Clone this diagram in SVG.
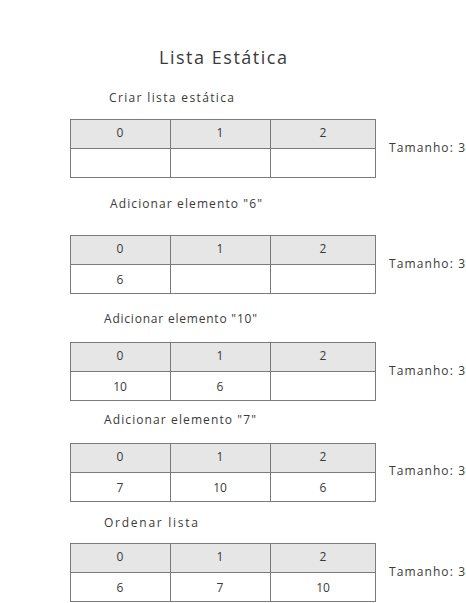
<svg xmlns="http://www.w3.org/2000/svg" width="466" height="603" viewBox="0 0 466 603">
<style>
text{font-family:"Open Sans","Lato","Noto Sans",sans-serif;fill:#3a3a3a;font-weight:400;font-variant-ligatures:none}
.title{font-size:18px}
.lbl{font-size:12px}
.num{font-size:12px;text-anchor:middle}
.head{fill:#e6e6e6;stroke:#7a7a7a;stroke-width:1}
.cell{fill:#ffffff;stroke:#7a7a7a;stroke-width:1}
</style>
<defs>
<g id="tbl">
<rect class="head" x="70.5" y="0.5" width="100" height="29"/>
<rect class="head" x="170.5" y="0.5" width="100" height="29"/>
<rect class="head" x="270.5" y="0.5" width="105" height="29"/>
<rect class="cell" x="70.5" y="29.5" width="100" height="29"/>
<rect class="cell" x="170.5" y="29.5" width="100" height="29"/>
<rect class="cell" x="270.5" y="29.5" width="105" height="29"/>
<text class="num" x="120" y="18">0</text>
<text class="num" x="220" y="18">1</text>
<text class="num" x="323" y="18">2</text>
</g>
</defs>
<rect width="466" height="603" fill="#ffffff"/>
<text class="title" x="159" y="64" textLength="128" lengthAdjust="spacing">Lista Estática</text>

<g id="step1">
<text class="lbl" x="109" y="102" textLength="125" lengthAdjust="spacing">Criar lista estática</text>
<use href="#tbl" y="119"/>
<text class="lbl" x="389" y="152" textLength="76" lengthAdjust="spacing">Tamanho: 3</text>
</g>

<g id="step2">
<text class="lbl" x="110" y="208" textLength="152" lengthAdjust="spacing">Adicionar elemento "6"</text>
<use href="#tbl" y="235"/>
<text class="num" x="120" y="284">6</text>
<text class="lbl" x="389" y="268" textLength="76" lengthAdjust="spacing">Tamanho: 3</text>
</g>

<g id="step3">
<text class="lbl" x="104" y="323" textLength="153" lengthAdjust="spacing">Adicionar elemento "10"</text>
<use href="#tbl" y="342"/>
<text class="num" x="120" y="391">10</text>
<text class="num" x="220" y="391">6</text>
<text class="lbl" x="389" y="375" textLength="76" lengthAdjust="spacing">Tamanho: 3</text>
</g>

<g id="step4">
<text class="lbl" x="104" y="424" textLength="152" lengthAdjust="spacing">Adicionar elemento "7"</text>
<use href="#tbl" y="443"/>
<text class="num" x="120" y="492">7</text>
<text class="num" x="220" y="492">10</text>
<text class="num" x="323" y="492">6</text>
<text class="lbl" x="389" y="475" textLength="76" lengthAdjust="spacing">Tamanho: 3</text>
</g>

<g id="step5">
<text class="lbl" x="104" y="527" textLength="94" lengthAdjust="spacing">Ordenar lista</text>
<use href="#tbl" y="543"/>
<text class="num" x="120" y="592">6</text>
<text class="num" x="220" y="592">7</text>
<text class="num" x="323" y="592">10</text>
<text class="lbl" x="389" y="576" textLength="76" lengthAdjust="spacing">Tamanho: 3</text>
</g>
</svg>
